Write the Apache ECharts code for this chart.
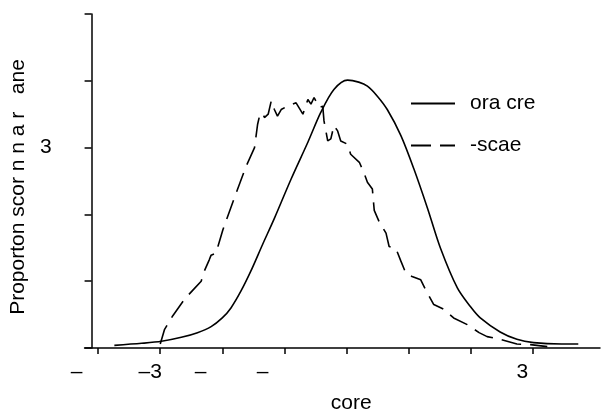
<!DOCTYPE html>
<html>
<head>
<meta charset="utf-8">
<script src="https://cdn.jsdelivr.net/npm/echarts@6/dist/echarts.min.js"></script>
<style>
  html, body { margin: 0; padding: 0; background: #fff; }
  #chart { width: 602px; height: 419px; }
</style>
</head>
<body>
<div id="chart"></div>
<script>
// solid curve
var normalX = [-3.74, -3.30, -2.98, -2.66, -2.40, -2.18, -2.00, -1.86, -1.70, -1.54, -1.35, -1.16, -0.89, -0.62,
               -0.41, -0.20, 0.02, 0.20, 0.34, 0.50, 0.66, 0.88, 1.09, 1.31, 1.52, 1.79, 2.00, 2.16, 2.48,
               2.75, 3.02, 3.47, 3.74];
var normalY = [0.04, 0.07, 0.10, 0.16, 0.23, 0.32, 0.45, 0.60, 0.85, 1.15, 1.55, 1.94, 2.53, 3.08,
               3.53, 3.87, 4.01, 3.98, 3.92, 3.77, 3.57, 3.18, 2.68, 2.09, 1.49, 0.90, 0.62, 0.45, 0.24,
               0.13, 0.08, 0.06, 0.06];

// dashed curve
var scaledX = [-3.00, -2.93, -2.80, -2.61, -2.47, -2.34, -2.29, -2.21, -2.18, -2.10, -2.07, -1.99, -1.80,
               -1.62, -1.48, -1.43, -1.40, -1.35, -1.32, -1.26, -1.21, -1.16, -1.11, -1.05, -0.95, -0.81,
               -0.70, -0.62, -0.57, -0.52, -0.44, -0.38, -0.36, -0.30, -0.25, -0.20, -0.14, -0.09, 0.02,
               0.07, 0.21, 0.29, 0.34, 0.42, 0.45, 0.53, 0.64, 0.69, 0.80, 0.88, 0.96, 1.06, 1.20, 1.28,
               1.41, 1.57, 1.73, 1.95, 2.14, 2.27, 2.48, 2.75, 2.97, 3.24];
var scaledY = [0.06, 0.28, 0.48, 0.73, 0.87, 1.00, 1.15, 1.32, 1.39, 1.42, 1.52, 1.77, 2.26,
               2.71, 3.00, 3.35, 3.47, 3.52, 3.45, 3.50, 3.70, 3.57, 3.47, 3.57, 3.62, 3.67,
               3.50, 3.72, 3.65, 3.75, 3.60, 3.62, 3.40, 3.10, 3.13, 3.33, 3.25, 3.10, 3.05,
               2.90, 2.78, 2.61, 2.48, 2.38, 2.06, 1.89, 1.72, 1.52, 1.49, 1.30, 1.12, 1.07, 1.02, 0.87,
               0.65, 0.58, 0.45, 0.35, 0.23, 0.17, 0.13, 0.06, 0.05, 0.02];

var xTicks = [-4, -3, -2, -1, 0, 1, 2, 3];
var xTickLabels = ['\u2013\u00a0\u00a0\u00a0\u00a0', '\u2013' + '3', '\u2013\u00a0\u00a0\u00a0\u00a0', '\u2013\u00a0\u00a0\u00a0\u00a0', '', '', '', '3'];
var yTickLabels = ['', '', '', '3', '', ''];

var seriesNames = ['ora cre', '-scae'];

function pairs(xs, ys) {
  var out = [];
  for (var i = 0; i < xs.length; i++) out.push([xs[i], ys[i]]);
  return out;
}

var chart = echarts.init(document.getElementById('chart'));
var font = 'Liberation Sans, Arial, Helvetica, sans-serif';
var option = {
  animation: false,
  backgroundColor: '#fff',
  textStyle: { fontFamily: font, color: '#000' },
  grid: { left: 83, right: 2, top: 14, bottom: 69 },
  legend: {
    orient: 'vertical',
    left: 405,
    top: 88,
    itemWidth: 44,
    itemHeight: 20,
    itemGap: 21,
    data: seriesNames,
    itemStyle: { opacity: 0 },
    textStyle: { fontSize: 21, color: '#000', fontFamily: font, padding: [0, 0, 0, 10] }
  },
  xAxis: {
    type: 'value',
    min: -4.22,
    max: 4.09,
    name: 'core',
    nameLocation: 'middle',
    nameGap: 45,
    nameTextStyle: { fontSize: 21, color: '#000', fontFamily: font, padding: [0, 0, 0, 18] },
    splitLine: { show: false },
    axisLine: { onZero: false, lineStyle: { color: '#000', width: 1.5 } },
    axisTick: { customValues: xTicks, length: 6, lineStyle: { color: '#000', width: 1.5 } },
    axisLabel: {
      customValues: xTicks,
      margin: 14,
      fontSize: 21,
      color: '#000',
      fontFamily: font,
      padding: [0, 20, 0, 0],
      formatter: function (v) {
        var i = xTicks.indexOf(Math.round(v));
        return i < 0 ? '' : xTickLabels[i];
      }
    }
  },
  yAxis: {
    type: 'value',
    min: 0,
    max: 5,
    interval: 1,
    offset: -7,
    name: 'Proporton scor n n a r   ane',
    nameLocation: 'middle',
    nameGap: 62,
    nameTextStyle: { fontSize: 21, color: '#000', fontFamily: font, padding: [0, 12, 0, 0] },
    splitLine: { show: false },
    axisLine: { show: true, onZero: false, lineStyle: { color: '#000', width: 1.5 } },
    axisTick: { show: true, length: 7, lineStyle: { color: '#000', width: 1.5 } },
    axisLabel: {
      margin: 40,
      fontSize: 21,
      color: '#000',
      fontFamily: font,
      padding: [4, 0, 0, 0],
      formatter: function (v) { return yTickLabels[Math.round(v)] || ''; }
    }
  },
  series: [
    {
      name: seriesNames[0],
      type: 'line',
      data: pairs(normalX, normalY),
      smooth: 0.3,
      symbol: 'none',
      lineStyle: { color: '#000', width: 1.6 },
      itemStyle: { color: '#000' }
    },
    {
      name: seriesNames[1],
      type: 'line',
      data: pairs(scaledX, scaledY),
      symbol: 'none',
      lineStyle: { color: '#000', width: 1.6, type: [20, 9] },
      itemStyle: { color: '#000' }
    }
  ]
};
chart.setOption(option);
</script>
</body>
</html>
